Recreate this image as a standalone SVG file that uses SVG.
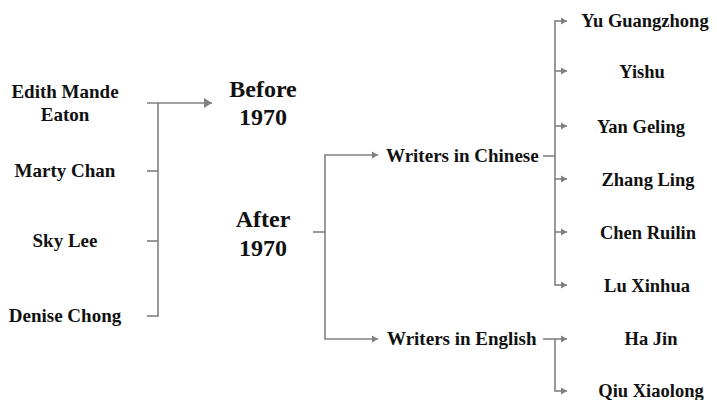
<svg xmlns="http://www.w3.org/2000/svg" width="717" height="400" viewBox="0 0 717 400">
<style>
text{font-family:"Liberation Serif","Times New Roman",serif;font-weight:bold;fill:#111;}
.n{font-size:19px;text-anchor:middle;}
.r{font-size:18.5px;text-anchor:middle;}
.b{font-size:24px;text-anchor:middle;}
.w{font-size:19px;text-anchor:start;}
.c line,.c path{stroke:#808080;stroke-width:1.6;fill:none;}
</style>
<defs>
<marker id="big" markerUnits="userSpaceOnUse" markerWidth="9" markerHeight="10" refX="8" refY="5" orient="auto"><path d="M0,0 L8,5 L0,10 Z" fill="#808080"/></marker>
<marker id="sm" markerUnits="userSpaceOnUse" markerWidth="7" markerHeight="8" refX="6" refY="4" orient="auto"><path d="M0,0.5 L6,4 L0,7.5 Z" fill="#808080"/></marker>
</defs>
<g class="c" id="connectors">
<line x1="147" y1="103" x2="212" y2="103" marker-end="url(#big)"/>
<line x1="147" y1="171" x2="158" y2="171"/>
<line x1="147" y1="241" x2="158" y2="241"/>
<line x1="147" y1="316" x2="158" y2="316"/>
<line x1="158" y1="103" x2="158" y2="316.8"/>
<line x1="313" y1="232" x2="325" y2="232"/>
<line x1="325" y1="155" x2="325" y2="339"/>
<line x1="324.2" y1="155" x2="378" y2="155" marker-end="url(#sm)"/>
<line x1="324.2" y1="339" x2="378" y2="339" marker-end="url(#sm)"/>
<line x1="543" y1="156" x2="555" y2="156"/>
<line x1="555" y1="21" x2="555" y2="285"/>
<line x1="554.2" y1="21" x2="567" y2="21" marker-end="url(#sm)"/>
<line x1="555" y1="71" x2="567" y2="71" marker-end="url(#sm)"/>
<line x1="555" y1="126" x2="567" y2="126" marker-end="url(#sm)"/>
<line x1="555" y1="179" x2="567" y2="179" marker-end="url(#sm)"/>
<line x1="555" y1="232" x2="567" y2="232" marker-end="url(#sm)"/>
<line x1="554.2" y1="285" x2="567" y2="285" marker-end="url(#sm)"/>
<line x1="543" y1="339" x2="567" y2="339" marker-end="url(#sm)"/>
<line x1="555" y1="339" x2="555" y2="391"/>
<line x1="554.2" y1="391" x2="567" y2="391" marker-end="url(#sm)"/>
</g>
<g id="edith"><text class="n" x="65" y="98">Edith Mande</text><text class="n" x="65" y="121">Eaton</text></g>
<g id="marty"><text class="n" x="65" y="177">Marty Chan</text></g>
<g id="skylee"><text class="n" x="65" y="247">Sky Lee</text></g>
<g id="denise"><text class="n" x="65" y="322">Denise Chong</text></g>
<g id="before"><text class="b" x="263" y="97">Before</text><text class="b" x="263" y="125">1970</text></g>
<g id="after"><text class="b" x="263" y="227">After</text><text class="b" x="263" y="256">1970</text></g>
<g id="chinese"><text class="w" x="386" y="162">Writers in Chinese</text></g>
<g id="english"><text class="w" x="387" y="345">Writers in English</text></g>
<g id="yu"><text class="r" x="645" y="27">Yu Guangzhong</text></g>
<g id="yishu"><text class="r" x="642" y="78">Yishu</text></g>
<g id="yan"><text class="r" x="641" y="133">Yan Geling</text></g>
<g id="zhang"><text class="r" x="648" y="186">Zhang Ling</text></g>
<g id="chen"><text class="r" x="648" y="239">Chen Ruilin</text></g>
<g id="lu"><text class="r" x="647" y="292">Lu Xinhua</text></g>
<g id="hajin"><text class="r" x="651" y="345">Ha Jin</text></g>
<g id="qiu"><text class="r" x="651" y="397">Qiu Xiaolong</text></g>
</svg>
